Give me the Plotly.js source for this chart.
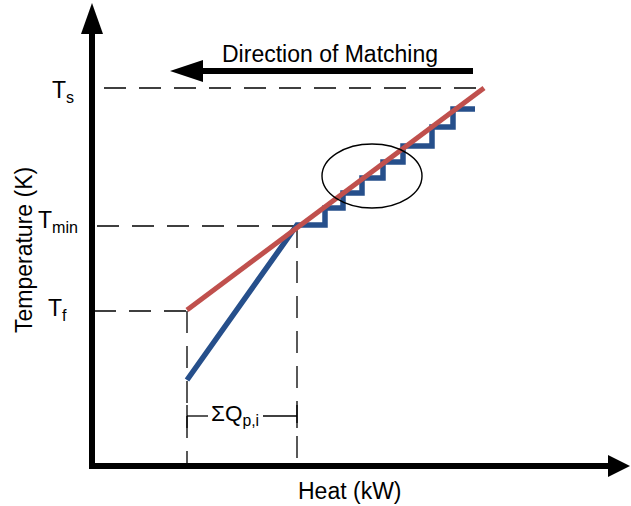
<!DOCTYPE html>
<html>
<head>
<meta charset="utf-8">
<script src="https://cdn.plot.ly/plotly-3.0.1.min.js"></script>
<style>html,body{margin:0;padding:0;background:#fff;}#chart{width:631px;height:506px;}</style>
</head>
<body>
<div id="chart"></div>
<script>
// ---- schematic data (Heat in arbitrary units, Temperature in arbitrary units) ----
const hotHeat = [95, 392];
const hotTemp = [155, 377];

const coldHeat = [95, 205, 233, 233, 251, 251, 270, 270, 291, 291, 311, 311, 340, 340, 361, 361, 383];
const coldTemp = [85, 240, 240, 257, 257, 272, 272, 287, 287, 303, 303, 319, 319, 338, 338, 356, 356];

const levelNames = ["T<sub>s</sub>", "T<sub>min</sub>", "T<sub>f</sub>"];
const levelTemps = [377, 239, 154];
const levelHeats = [392, 205, 95];   // where each dashed guide ends

const sumQStart = 95;
const sumQEnd = 205;
const sumQLabel = "ΣQ<sub>p,i</sub>";

const matchArrowFrom = 381;
const matchArrowTo = 78;
const matchArrowTemp = 394;

// ---- axis frame ----
const xr = [-92, 539];
const yr = [-41, 465];
const FONT = "Liberation Sans, Arial, sans-serif";

const shapes = [];
const dash = "22px,13px";
// horizontal guides from y axis to level
const hStarts = [12, 5, 2];
levelTemps.forEach((t, i) => {
  shapes.push({type: "line", layer: "below", x0: hStarts[i], x1: levelHeats[i], y0: t, y1: t,
    line: {color: "#000", width: 1.3, dash: dash}});
});
// vertical guides down to heat axis
[[sumQStart, levelTemps[2]], [sumQEnd, levelTemps[1]]].forEach(([x, t]) => {
  shapes.push({type: "line", layer: "below", x0: x, x1: x, y0: t, y1: 0,
    line: {color: "#000", width: 1.3, dash: dash}});
});
// ΣQ bracket
const by = 49;
shapes.push({type: "line", x0: sumQStart, x1: sumQStart + 21, y0: by, y1: by, line: {color: "#000", width: 1.3}});
shapes.push({type: "line", x0: sumQEnd - 34, x1: sumQEnd, y0: by, y1: by, line: {color: "#000", width: 1.3}});
[sumQStart, sumQEnd].forEach(x => shapes.push({type: "line", x0: x, x1: x, y0: by - 12, y1: by + 11, line: {color: "#000", width: 1.3}}));

// ellipse around the staircase
shapes.push({type: "circle", x0: 230, x1: 330, y0: 257, y1: 321, line: {color: "#000", width: 1.4}});

// axes with arrow heads
shapes.push({type: "line", x0: 0, x1: 0, y0: -2, y1: 432, line: {color: "#000", width: 6}});
shapes.push({type: "path", path: `M -11 431 L 0 462 L 11 431 Z`, fillcolor: "#000", line: {width: 0}});
shapes.push({type: "line", x0: -3, x1: 517, y0: -1, y1: -1, line: {color: "#000", width: 6}});
shapes.push({type: "path", path: `M 516 10 L 538 -1 L 516 -12 Z`, fillcolor: "#000", line: {width: 0}});

// direction of matching arrow
shapes.push({type: "line", x0: matchArrowFrom, x1: matchArrowTo + 32, y0: matchArrowTemp, y1: matchArrowTemp, line: {color: "#000", width: 6}});
shapes.push({type: "path", path: `M ${matchArrowTo + 33} ${matchArrowTemp + 11} L ${matchArrowTo} ${matchArrowTemp} L ${matchArrowTo + 33} ${matchArrowTemp - 11} Z`, fillcolor: "#000", line: {width: 0}});

const annotations = [];
const tickX = [-16, -12, -23];
const tickY = [374, 244, 156];
levelNames.forEach((n, i) => annotations.push({x: tickX[i], y: tickY[i], text: n, showarrow: false,
  xanchor: "right", yanchor: "middle", font: {family: FONT, size: 23, color: "#000"}}));
annotations.push({x: 143, y: by + 1, text: sumQLabel, showarrow: false, xanchor: "center", yanchor: "middle",
  font: {family: FONT, size: 22.5, color: "#000"}});
annotations.push({x: 238, y: 411, text: "Direction of Matching", showarrow: false, xanchor: "center", yanchor: "middle",
  font: {family: FONT, size: 23, color: "#000"}});
annotations.push({x: 258, y: -26, text: "Heat (kW)", showarrow: false, xanchor: "center", yanchor: "middle",
  font: {family: FONT, size: 23, color: "#000"}});
annotations.push({x: -68, y: 215, text: "Temperature (K)", textangle: -90, showarrow: false, xanchor: "center", yanchor: "middle",
  font: {family: FONT, size: 23, color: "#000"}});

const traces = [
  {x: coldHeat, y: coldTemp, mode: "lines", line: {color: "#264F8B", width: 5.5}, hoverinfo: "skip"},
  {x: hotHeat, y: hotTemp, mode: "lines", line: {color: "#C0504D", width: 5}, hoverinfo: "skip"}
];

const layout = {
  width: 631, height: 506,
  margin: {l: 0, r: 0, t: 0, b: 0, pad: 0},
  paper_bgcolor: "#fff", plot_bgcolor: "rgba(0,0,0,0)",
  showlegend: false,
  xaxis: {range: xr, visible: false, fixedrange: true},
  yaxis: {range: yr, visible: false, fixedrange: true},
  shapes: shapes,
  annotations: annotations
};
Plotly.newPlot("chart", traces, layout, {displayModeBar: false, staticPlot: true});
</script>
</body>
</html>
